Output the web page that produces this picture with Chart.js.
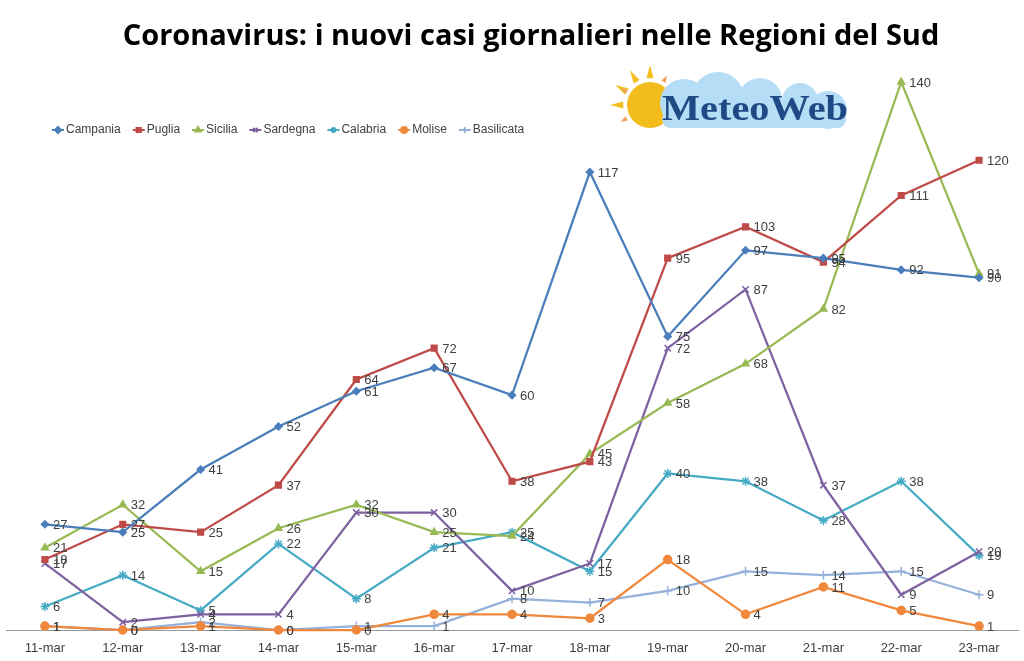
<!DOCTYPE html>
<html>
<head>
<meta charset="utf-8">
<script src="https://cdn.jsdelivr.net/npm/chart.js@4.4.1/dist/chart.umd.min.js"></script>
<style>
  html, body { margin: 0; padding: 0; background: #fff; }
  #wrap { width: 1024px; height: 661px; }
</style>
</head>
<body>
<div id="wrap"><canvas id="casesChart" width="1024" height="661"></canvas></div>
<script>
// nuovi casi giornalieri, 11-23 marzo
const days = ['11-mar', '12-mar', '13-mar', '14-mar', '15-mar', '16-mar', '17-mar',
              '18-mar', '19-mar', '20-mar', '21-mar', '22-mar', '23-mar'];

const campania   = [27, 25, 41, 52, 61, 67, 60, 117, 75, 97, 95, 92, 90];
const puglia     = [18, 27, 25, 37, 64, 72, 38, 43, 95, 103, 94, 111, 120];
const sicilia    = [21, 32, 15, 26, 32, 25, 24, 45, 58, 68, 82, 140, 91];
const sardegna   = [17, 2, 4, 4, 30, 30, 10, 17, 72, 87, 37, 9, 20];
const calabria   = [6, 14, 5, 22, 8, 21, 25, 15, 40, 38, 28, 38, 19];
const molise     = [1, 0, 1, 0, 0, 4, 4, 3, 18, 4, 11, 5, 1];
const basilicata = [1, 0, 2, 0, 1, 1, 8, 7, 10, 15, 14, 15, 9];

const TEXT = '#404040';
const FONT = '"Liberation Sans", Arial, sans-serif';

function series(label, data, color, style, radius) {
  return {
    label: label,
    data: data,
    borderColor: color,
    backgroundColor: color,
    borderWidth: 2.25,
    pointStyle: style,
    pointRadius: radius,
    pointBorderWidth: 1.5,
    pointBorderColor: color,
    pointBackgroundColor: color,
    tension: 0,
    clip: false
  };
}

// etichette dei valori a destra di ogni punto
const valueLabels = {
  id: 'valueLabels',
  afterDatasetsDraw(chart) {
    const ctx = chart.ctx;
    ctx.save();
    ctx.font = '13px ' + FONT;
    ctx.fillStyle = TEXT;
    ctx.textBaseline = 'middle';
    ctx.textAlign = 'left';
    chart.data.datasets.forEach((ds, i) => {
      const meta = chart.getDatasetMeta(i);
      meta.data.forEach((pt, j) => {
        ctx.fillText(String(ds.data[j]), pt.x + 8, pt.y + 1);
      });
    });
    ctx.restore();
  }
};

// titolo, legenda interna e logo
const decor = {
  id: 'decor',
  afterDraw(chart) {
    const ctx = chart.ctx;
    ctx.save();

    // titolo
    ctx.font = 'bold 29px "Open Sans", sans-serif';
    ctx.fillStyle = '#000';
    ctx.textAlign = 'center';
    ctx.textBaseline = 'middle';
    ctx.fillText('Coronavirus: i nuovi casi giornalieri nelle Regioni del Sud', 531, 37);

    // legenda
    ctx.font = '12px ' + FONT;
    ctx.textAlign = 'left';
    let x = 52;
    const y = 130;
    chart.data.datasets.forEach((ds) => {
      ctx.strokeStyle = ds.borderColor;
      ctx.lineWidth = 2;
      ctx.beginPath();
      ctx.moveTo(x, y);
      ctx.lineTo(x + 12, y);
      ctx.stroke();
      ctx.fillStyle = ds.backgroundColor;
      Chart.helpers.drawPoint(ctx, {
        pointStyle: ds.pointStyle, radius: 3, rotation: 0, borderWidth: 1.5
      }, x + 6, y);
      ctx.fillStyle = TEXT;
      ctx.fillText(ds.label, x + 14, y);
      x += 14 + ctx.measureText(ds.label).width + 12;
    });

    // logo MeteoWeb: raggi del sole
    const sx = 650, sy = 105;
    [-150, -120, -90, -60, 150, 180, 210, 240].forEach(a => {
      const r = a * Math.PI / 180;
      const big = (a === -90 || a === 180 || a === 240 || a === -150);
      const r1 = 27, r2 = big ? 40 : 34, w = big ? 0.13 : 0.09;
      ctx.fillStyle = big ? '#f2c01e' : '#f4a060';
      ctx.beginPath();
      ctx.moveTo(sx + Math.cos(r - w) * r1, sy + Math.sin(r - w) * r1);
      ctx.lineTo(sx + Math.cos(r) * r2, sy + Math.sin(r) * r2);
      ctx.lineTo(sx + Math.cos(r + w) * r1, sy + Math.sin(r + w) * r1);
      ctx.closePath();
      ctx.fill();
    });
    ctx.fillStyle = '#f2bc1c';
    ctx.beginPath();
    ctx.arc(sx, sy, 23, 0, Math.PI * 2);
    ctx.fill();

    // nuvola
    ctx.fillStyle = '#b5ddf5';
    ctx.beginPath();
    ctx.arc(684, 103, 24, 0, Math.PI * 2);
    ctx.fill();
    ctx.beginPath();
    ctx.arc(718, 98, 26, 0, Math.PI * 2);
    ctx.fill();
    ctx.beginPath();
    ctx.arc(760, 100, 22, 0, Math.PI * 2);
    ctx.fill();
    ctx.beginPath();
    ctx.arc(800, 101, 18, 0, Math.PI * 2);
    ctx.fill();
    ctx.beginPath();
    ctx.arc(828, 110, 19, 0, Math.PI * 2);
    ctx.fill();
    ctx.beginPath();
    ctx.moveTo(668, 105);
    ctx.lineTo(846, 105);
    ctx.lineTo(846, 118);
    ctx.quadraticCurveTo(846, 128, 836, 128);
    ctx.lineTo(672, 128);
    ctx.quadraticCurveTo(662, 128, 662, 118);
    ctx.closePath();
    ctx.fill();

    ctx.fillStyle = '#1f4a86';
    ctx.font = 'bold 36px "Liberation Serif", "DejaVu Serif", serif';
    ctx.textAlign = 'left';
    ctx.textBaseline = 'alphabetic';
    const word = 'MeteoWeb';
    const ww = ctx.measureText(word).width;
    ctx.save();
    ctx.translate(662, 120);
    ctx.scale(186 / ww, 1);
    ctx.fillText(word, 0, 0);
    ctx.restore();

    ctx.restore();
  }
};

new Chart(document.getElementById('casesChart'), {
  type: 'line',
  data: {
    labels: days,
    datasets: [
      series('Campania', campania, '#4a7ebb', 'rectRot', 3.5),
      series('Puglia', puglia, '#be4b48', 'rect', 4),
      series('Sicilia', sicilia, '#98b954', 'triangle', 4),
      series('Sardegna', sardegna, '#7d60a0', 'crossRot', 4.5),
      series('Calabria', calabria, '#46aac5', 'star', 4.5),
      series('Molise', molise, '#f0883c', 'circle', 4),
      series('Basilicata', basilicata, '#95b0da', 'cross', 4.5)
    ]
  },
  options: {
    responsive: false,
    animation: false,
    devicePixelRatio: 1,
    layout: { padding: { top: 82, left: 3, right: 4, bottom: 0 } },
    plugins: {
      legend: { display: false },
      title: { display: false },
      tooltip: { enabled: false }
    },
    scales: {
      x: {
        offset: true,
        grid: { display: false, drawTicks: false },
        border: { display: true, color: '#9a9a9a', width: 1 },
        ticks: {
          color: TEXT,
          font: { family: FONT, size: 13 },
          padding: 11,
          maxRotation: 0,
          autoSkip: false
        },
        afterFit(scale) { scale.height = 31; }
      },
      y: {
        display: false,
        min: 0,
        max: 140
      }
    }
  },
  plugins: [valueLabels, decor]
});
</script>
</body>
</html>
